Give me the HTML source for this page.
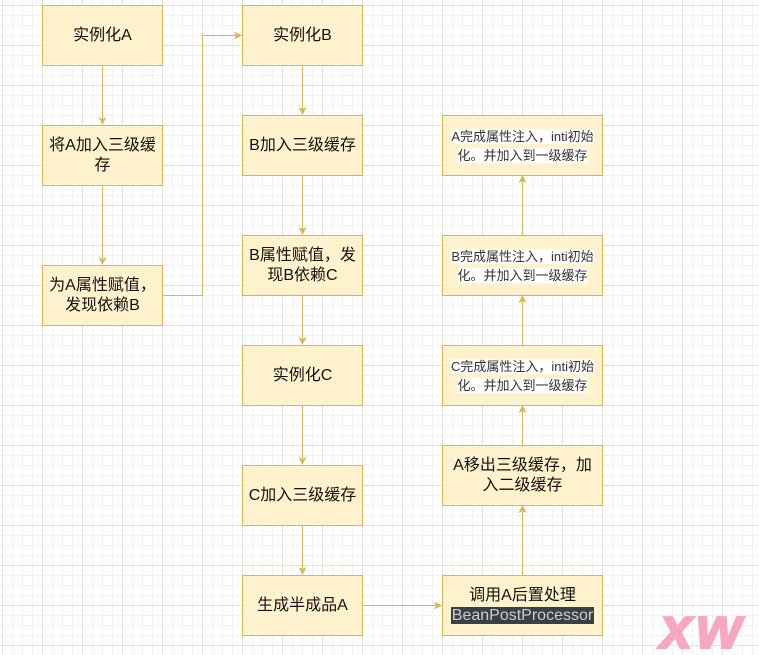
<!DOCTYPE html>
<html><head><meta charset="utf-8"><style>
body{margin:0;width:759px;height:655px;overflow:hidden;background:#fff;
background-image:linear-gradient(#e0e0e0 1px,transparent 1px),linear-gradient(90deg,#e0e0e0 1px,transparent 1px),linear-gradient(#f1f1f1 1px,transparent 1px),linear-gradient(90deg,#f1f1f1 1px,transparent 1px);
background-size:40px 40px,40px 40px,10px 10px,10px 10px;background-position:0 5px,2px 0,0 5px,2px 0;
font-family:"Liberation Sans","Noto Sans CJK SC",sans-serif;position:relative}
.b{position:absolute;box-sizing:border-box;background:#fff2cc;border:1px solid #d6b656;display:flex;align-items:center;justify-content:center;text-align:center;font-size:16px;line-height:20px;color:#111;padding:0 2px}
.s{font-size:13px;line-height:19px;color:#333}
.s span{background:#fff}
.d{background:#3b4045;color:#ccc;padding:0 1px}
svg{position:absolute;left:0;top:0}
</style></head><body>
<svg width="759" height="655">
<defs><marker id="a" markerWidth="8" markerHeight="8" refX="7" refY="4" orient="auto" markerUnits="userSpaceOnUse"><path d="M0,0 L8,4 L0,8 L2,4z" fill="#d6b656"/></marker></defs>
<g stroke="#d6b656" stroke-width="1" fill="none" marker-end="url(#a)">
<path d="M102.5,65 V124"/><path d="M102.5,185 V264"/>
<path d="M162,295.5 H202.5 V35.5 H241"/>
<path d="M302.5,65 V114"/><path d="M302.5,175 V234"/><path d="M302.5,295 V344"/><path d="M302.5,405 V464"/><path d="M302.5,525 V574"/>
<path d="M362,605.5 H441"/>
<path d="M522.5,575 V506"/><path d="M522.5,445 V406"/><path d="M522.5,345 V296"/><path d="M522.5,235 V176"/>
</g>
<text x="660" y="648" font-family="Liberation Sans, sans-serif" font-style="italic" font-weight="bold" font-size="58" fill="#f7a8c0" stroke="#f7a8c0" stroke-width="2" letter-spacing="4">xw</text>
</svg>
<div class="b" style="left:42px;top:5px;width:121px;height:61px">实例化A</div>
<div class="b" style="left:42px;top:125px;width:121px;height:61px">将A加入三级缓存</div>
<div class="b" style="left:42px;top:265px;width:121px;height:61px">为A属性赋值，发现依赖B</div>
<div class="b" style="left:242px;top:5px;width:121px;height:61px">实例化B</div>
<div class="b" style="left:242px;top:115px;width:121px;height:61px">B加入三级缓存</div>
<div class="b" style="left:242px;top:235px;width:121px;height:61px">B属性赋值，发现B依赖C</div>
<div class="b" style="left:242px;top:345px;width:121px;height:61px">实例化C</div>
<div class="b" style="left:242px;top:465px;width:121px;height:61px">C加入三级缓存</div>
<div class="b" style="left:242px;top:575px;width:121px;height:61px">生成半成品A</div>
<div class="b s" style="left:442px;top:115px;width:161px;height:61px"><div><span>A完成属性注入，inti初始<br>化。并加入到一级缓存</span></div></div>
<div class="b s" style="left:442px;top:235px;width:161px;height:61px"><div><span>B完成属性注入，inti初始<br>化。并加入到一级缓存</span></div></div>
<div class="b s" style="left:442px;top:345px;width:161px;height:61px"><div><span>C完成属性注入，inti初始<br>化。并加入到一级缓存</span></div></div>
<div class="b" style="left:442px;top:445px;width:161px;height:61px">A移出三级缓存，加<br>入二级缓存</div>
<div class="b" style="left:442px;top:575px;width:161px;height:61px"><div>调用A后置处理<br><span class="d">BeanPostProcessor</span></div></div>
</body></html>
